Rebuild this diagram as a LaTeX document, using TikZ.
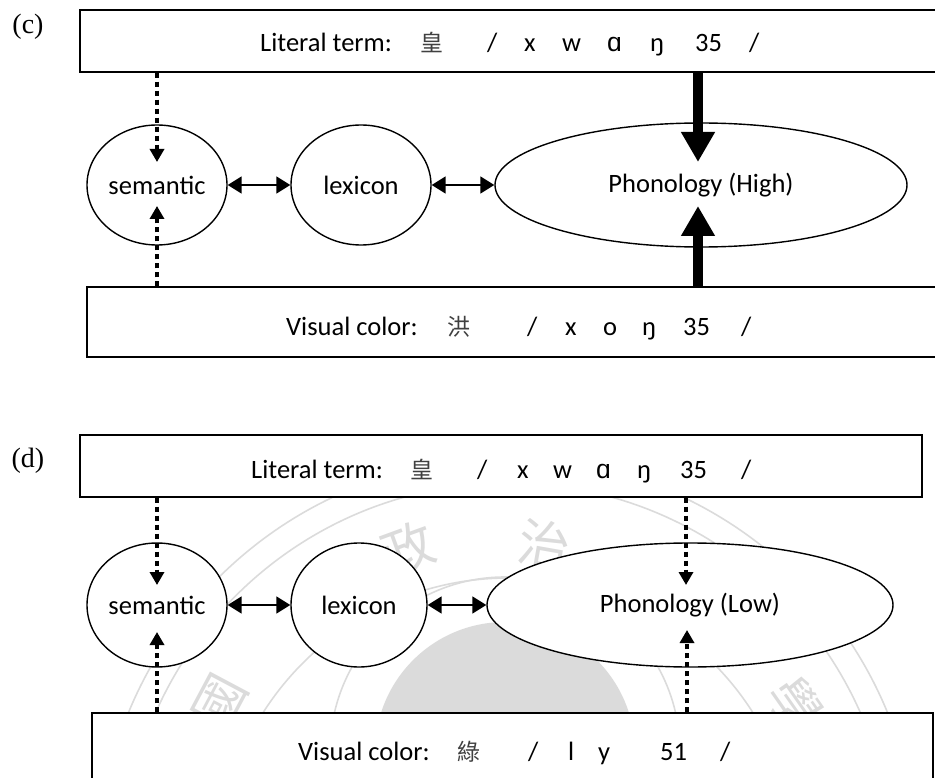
\documentclass[tikz,border=0pt]{standalone}
\usepackage{fontspec}
\setmainfont{Carlito}
\newfontfamily\cjk{Noto Sans CJK TC}
\newfontfamily\tagfont{Liberation Serif}
\newfontfamily\ipafont{Liberation Sans}
\usetikzlibrary{arrows.meta,shapes.geometric,calc}

\begin{document}
\begin{tikzpicture}[x=1pt,y=-1pt,
  box/.style={draw,fill=white,line width=1.4pt,inner sep=0pt},
  unit/.style={draw,fill=white,ellipse,line width=1.4pt,inner sep=0pt,
    font=\fontsize{26.5}{31}\selectfont},
  link/.style={line width=1.8pt,
    {Triangle[length=14pt,width=17pt]}-{Triangle[length=14pt,width=17pt]}},
  strong/.style={line width=10pt,-{Triangle[length=30pt,width=32pt]}},
  weak/.style={line width=4.8pt,dash pattern=on 5pt off 4pt,
    -{Triangle[length=13pt,width=14pt]}},
  txt/.style={anchor=base west,inner sep=0pt,font=\fontsize{26.5}{31}\selectfont},
  han/.style={anchor=base west,inner sep=0pt,text=black!75,
    font=\cjk\fontsize{23}{28}\selectfont},
  tag/.style={inner sep=0pt,font=\tagfont\fontsize{28}{33}\selectfont},
  seal/.style={draw=black!14,line width=1.6pt},
  sealchar/.style={text=black!14,font=\cjk\fontsize{52}{60}\selectfont,inner sep=0pt}
]
\useasboundingbox (0,0) rectangle (935,778);
\clip (0,0) rectangle (935,778);

% ---------- faint seal in the background of panel (d) ----------
\fill[black!14] (505,752) circle [radius=130pt];
\draw[seal] (505,752) circle [radius=175pt];
\draw[seal] (508,868) circle [radius=410pt];
\draw[seal] (508,868) circle [radius=385pt];
\draw[seal] (508,868) circle [radius=290pt];
\node[sealchar,rotate=62]  (s1) at (220,702) {國};
\node[sealchar,rotate=20]  (s3) at (408,548) {政};
\node[sealchar,rotate=-10] (s4) at (545,545) {治};
\node[sealchar,rotate=-55] (s6) at (795,705) {學};

% ---------- panel (c) ----------
\node[tag] (tc) at (28,27) {(c)};
\node[box,minimum width=870pt,minimum height=62pt] (ctop) at (515,41) {};
\node[box,minimum width=863pt,minimum height=70pt] (cbot) at (518.5,322) {};

\node[unit,minimum width=140pt,minimum height=120pt] (csem) at (157,185) {semantic};
\node[unit,minimum width=140pt,minimum height=120pt] (clex) at (361,185) {lexicon};
\node[unit,minimum width=412pt,minimum height=124pt] (cpho) at (701,185) {Phonology (High)};

\foreach \x/\t [count=\i] in {260/{Literal term:},487/{/},524/x,562/w,607/{\ipafont ɑ},650/ŋ,695/35,749/{/}}
  \node[txt] (ca\i) at (\x,52) {\t};
\node[han] (cah) at (420,52) {皇};
\foreach \x/\t [count=\i] in {286/{Visual color:},527/{/},565/x,603/o,642/ŋ,683/35,741/{/}}
  \node[txt] (cb\i) at (\x,335) {\t};
\node[han] (cbh) at (447,335) {洪};

\draw[link] (csem) -- (clex);
\draw[link] (clex.east) -- (clex.east -| cpho.west);
\draw[weak] (ctop.south -| csem.center) -- ($(csem.center)+(0,-23)$);
\draw[weak] (cbot.north -| csem.center) -- ($(csem.center)+(0,21)$);
\coordinate (cpt) at ($(cpho.center)+(-3,-23)$);
\coordinate (cpb) at ($(cpho.center)+(-3,21)$);
\draw[strong] (ctop.south -| cpt) -- (cpt);
\draw[strong] (cbot.north -| cpb) -- (cpb);

% ---------- panel (d) ----------
\node[tag] (td) at (28,461) {(d)};
\node[box,minimum width=842pt,minimum height=62pt] (dtop) at (501,466) {};
\node[box,minimum width=841pt,minimum height=80pt] (dbot) at (512.5,753) {};

\node[unit,minimum width=140pt,minimum height=124pt] (dsem) at (157,605) {semantic};
\node[unit,minimum width=136pt,minimum height=124pt] (dlex) at (359,605) {lexicon};
\node[unit,minimum width=406pt,minimum height=124pt] (dpho) at (690,605) {Phonology (Low)};

\foreach \x/\t [count=\i] in {251/{Literal term:},477/{/},517/x,553/w,596/{\ipafont ɑ},637/ŋ,680/35,741/{/}}
  \node[txt] (da\i) at (\x,478) {\t};
\node[han] (dah) at (410,478) {皇};
\foreach \x/\t [count=\i] in {298/{Visual color:},528/{/},568/l,598/y,660/51,720/{/}}
  \node[txt] (db\i) at (\x,760) {\t};
\node[han] (dbh) at (457,760) {綠};

\draw[link] (dsem) -- (dlex);
\draw[link] (dlex.east) -- (dlex.east -| dpho.west);
\draw[weak] (dtop.south -| dsem.center) -- ($(dsem.center)+(0,-20)$);
\draw[weak] (dbot.north -| dsem.center) -- ($(dsem.center)+(0,27)$);
\coordinate (dpt) at ($(dpho.center)+(-4,-20)$);
\coordinate (dpb) at ($(dpho.center)+(-3,25)$);
\draw[weak] (dtop.south -| dpt) -- (dpt);
\draw[weak] (dbot.north -| dpb) -- (dpb);
\end{tikzpicture}
\end{document}
